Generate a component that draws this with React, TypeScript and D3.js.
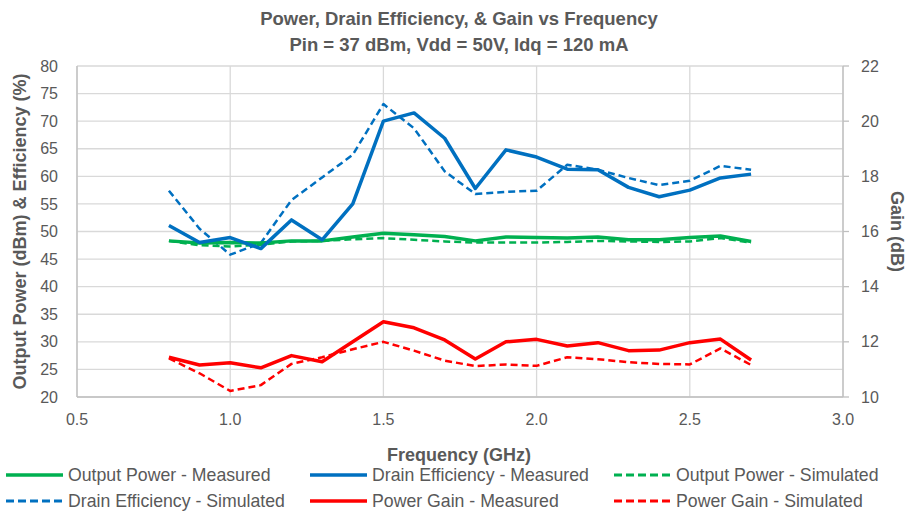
import React from 'react';
import * as d3 from 'd3';

// frequency points (GHz)
const freq = [0.8, 0.9, 1.0, 1.1, 1.2, 1.3, 1.4, 1.5, 1.6, 1.7, 1.8, 1.9, 2.0, 2.1, 2.2, 2.3, 2.4, 2.5, 2.6, 2.7];

// left axis series
const poutMeas = [48.3, 47.9, 48.0, 47.9, 48.3, 48.3, 49.0, 49.7, 49.4, 49.1, 48.3, 49.0, 48.9, 48.8, 49.0, 48.5, 48.5, 48.9, 49.2, 48.2];
const poutSim = [48.3, 47.5, 47.3, 47.6, 48.2, 48.3, 48.6, 48.8, 48.5, 48.2, 48.0, 48.0, 48.0, 48.1, 48.3, 48.2, 48.1, 48.2, 48.8, 48.0];
const deMeas = [51.1, 48.0, 48.9, 46.9, 52.1, 48.5, 55.0, 70.0, 71.5, 66.9, 57.8, 64.8, 63.5, 61.3, 61.2, 58.0, 56.3, 57.5, 59.7, 60.4];
const deSim = [57.4, 50.5, 45.8, 47.9, 55.7, 59.8, 63.9, 73.1, 68.7, 60.9, 56.8, 57.2, 57.4, 62.1, 61.2, 59.7, 58.4, 59.2, 61.9, 61.2];

// right axis series (dB)
const gainMeas = [11.44, 11.16, 11.24, 11.06, 11.5, 11.28, 12.0, 12.73, 12.51, 12.07, 11.38, 12.0, 12.09, 11.85, 11.97, 11.68, 11.7, 11.97, 12.1, 11.34];
const gainSim = [11.4, 10.86, 10.22, 10.43, 11.2, 11.44, 11.73, 12.0, 11.68, 11.32, 11.12, 11.18, 11.13, 11.44, 11.37, 11.26, 11.2, 11.18, 11.76, 11.16];

const xTicks = [0.5, 1.0, 1.5, 2.0, 2.5, 3.0];
const leftTicks = [20, 25, 30, 35, 40, 45, 50, 55, 60, 65, 70, 75, 80];
const rightTicks = [10, 12, 14, 16, 18, 20, 22];

const GREEN = '#00b050';
const BLUE = '#0070c0';
const RED = '#ff0000';
const GRAY = '#595959';
const FONT = '"Liberation Sans", Arial, sans-serif';

const App: React.FC = () => {
  const width = 912;
  const height = 514;

  const x = d3.scaleLinear().domain([0.5, 3.0]).range([77, 843]);
  const yL = d3.scaleLinear().domain([20, 80]).range([397, 66]);
  const yR = d3.scaleLinear().domain([10, 22]).range([397, 66]);

  const lineL = d3.line<number>().x((_d, i) => x(freq[i])).y(d => yL(d));
  const lineR = d3.line<number>().x((_d, i) => x(freq[i])).y(d => yR(d));

  const series = [
    { name: 'Output Power - Simulated', vals: poutSim, color: GREEN, dashed: true, right: false },
    { name: 'Drain Efficiency - Simulated', vals: deSim, color: BLUE, dashed: true, right: false },
    { name: 'Power Gain - Simulated', vals: gainSim, color: RED, dashed: true, right: true },
    { name: 'Output Power - Measured', vals: poutMeas, color: GREEN, dashed: false, right: false },
    { name: 'Drain Efficiency - Measured', vals: deMeas, color: BLUE, dashed: false, right: false },
    { name: 'Power Gain - Measured', vals: gainMeas, color: RED, dashed: false, right: true },
  ];

  // legend order as shown in the picture
  const legend = [
    { name: 'Output Power - Measured', color: GREEN, dashed: false },
    { name: 'Drain Efficiency - Measured', color: BLUE, dashed: false },
    { name: 'Output Power - Simulated', color: GREEN, dashed: true },
    { name: 'Drain Efficiency - Simulated', color: BLUE, dashed: true },
    { name: 'Power Gain - Measured', color: RED, dashed: false },
    { name: 'Power Gain - Simulated', color: RED, dashed: true },
  ];
  const legendCols = [6, 310, 614];
  const legendRows = [475, 501];

  return (
    <svg width={width} height={height} style={{ position: 'absolute', left: 0, top: 0, background: '#fff' }} fontFamily={FONT}>
      {/* title */}
      <text x={459} y={25} textAnchor="middle" fontSize={18.5} fontWeight="bold" fill={GRAY}>
        Power, Drain Efficiency, &amp; Gain vs Frequency
      </text>
      <text x={459} y={51} textAnchor="middle" fontSize={18.5} fontWeight="bold" fill={GRAY}>
        Pin = 37 dBm, Vdd = 50V, Idq = 120 mA
      </text>

      {/* gridlines */}
      {leftTicks.map(t => (
        <line key={'h' + t} x1={x(0.5)} x2={x(3.0)} y1={yL(t)} y2={yL(t)} stroke="#d9d9d9" strokeWidth={1.3} />
      ))}
      {xTicks.map(t => (
        <line key={'v' + t} x1={x(t)} x2={x(t)} y1={yL(20)} y2={yL(80)} stroke="#d9d9d9" strokeWidth={1.3} />
      ))}
      {/* axis lines */}
      <line x1={x(0.5)} x2={x(0.5)} y1={yL(20)} y2={yL(80)} stroke="#bfbfbf" strokeWidth={1.3} />
      <line x1={x(3.0)} x2={x(3.0)} y1={yL(20)} y2={yL(80)} stroke="#bfbfbf" strokeWidth={1.3} />
      <line x1={x(0.5)} x2={x(3.0)} y1={yL(20)} y2={yL(20)} stroke="#bfbfbf" strokeWidth={1.3} />
      {rightTicks.map(t => (
        <line key={'rt' + t} x1={x(3.0)} x2={x(3.0) + 6} y1={yR(t)} y2={yR(t)} stroke="#bfbfbf" strokeWidth={1.3} />
      ))}

      {/* tick labels */}
      {leftTicks.map(t => (
        <text key={'l' + t} x={58} y={yL(t)} dy="0.35em" textAnchor="end" fontSize={16} fill={GRAY}>{t}</text>
      ))}
      {rightTicks.map(t => (
        <text key={'r' + t} x={861} y={yR(t)} dy="0.35em" textAnchor="start" fontSize={16} fill={GRAY}>{t}</text>
      ))}
      {xTicks.map(t => (
        <text key={'x' + t} x={x(t)} y={425} textAnchor="middle" fontSize={16} fill={GRAY}>{d3.format('.1f')(t)}</text>
      ))}

      {/* axis titles */}
      <text transform={`translate(26,${(yL(20) + yL(80)) / 2}) rotate(-90)`} textAnchor="middle" fontSize={18} fontWeight="bold" fill={GRAY}>
        Output Power (dBm) &amp; Efficiency (%)
      </text>
      <text transform={`translate(891,${(yL(20) + yL(80)) / 2}) rotate(90)`} textAnchor="middle" fontSize={18} fontWeight="bold" fill={GRAY}>
        Gain (dB)
      </text>
      <text x={459} y={461} textAnchor="middle" fontSize={18} fontWeight="bold" fill={GRAY}>
        Frequency (GHz)
      </text>

      {/* series */}
      {series.map(s => (
        <path
          key={s.name}
          d={(s.right ? lineR : lineL)(s.vals) || ''}
          fill="none"
          stroke={s.color}
          strokeWidth={s.dashed ? 2.5 : 3.5}
          strokeDasharray={s.dashed ? '7,4' : undefined}
          strokeLinejoin="round"
        />
      ))}

      {/* legend */}
      {legend.map((l, i) => {
        const cx = legendCols[i % 3];
        const cy = legendRows[Math.floor(i / 3)];
        return (
          <g key={l.name} transform={`translate(${cx},${cy})`}>
            <line x1={0} x2={57} y1={0} y2={0} stroke={l.color} strokeWidth={l.dashed ? 3 : 3.5} strokeDasharray={l.dashed ? '8,4' : undefined} />
            <text x={62} y={0} dy="0.35em" fontSize={17.7} fill={GRAY}>{l.name}</text>
          </g>
        );
      })}
    </svg>
  );
};

export default App;
